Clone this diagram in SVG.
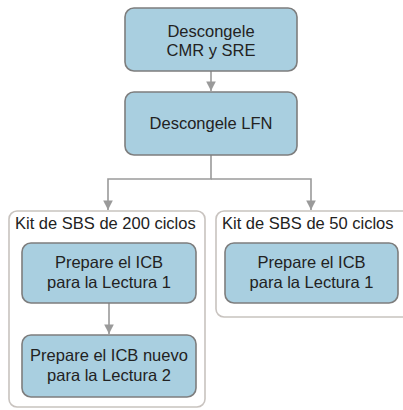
<svg xmlns="http://www.w3.org/2000/svg" width="403" height="410" viewBox="0 0 403 410">
<style>
.node{fill:#a9cfe0;stroke:#7d7d7d;stroke-width:1.6}
.grp{fill:#ffffff;stroke:#c8c3bf;stroke-width:1.6}
.t{font-family:"Liberation Sans",Arial,sans-serif;font-size:16.5px;fill:#222;text-anchor:middle}
.gl{font-family:"Liberation Sans",Arial,sans-serif;font-size:16.5px;fill:#222}
.c{fill:none;stroke:#9a9a9a;stroke-width:1.6}
</style>
<defs>
<marker id="ah" viewBox="0 0 10 10" refX="10" refY="5" markerWidth="6" markerHeight="6" orient="auto" markerUnits="strokeWidth">
<path d="M0,0 L10,5 L0,10 z" fill="#9a9a9a"/>
</marker>
</defs>
<rect width="403" height="410" fill="#ffffff"/>
<g id="grp200">
<rect class="grp" x="9" y="211" width="196" height="196" rx="8"/>
<text class="gl" x="15" y="229">Kit de SBS de 200 ciclos</text>
</g>
<g id="grp50">
<rect class="grp" x="216" y="211" width="200" height="106" rx="8"/>
<text class="gl" x="222" y="229">Kit de SBS de 50 ciclos</text>
</g>
<g id="connectors">
<path class="c" d="M211,71 V91" marker-end="url(#ah)"/>
<path class="c" d="M211,155 V179 H108 V210" marker-end="url(#ah)"/>
<path class="c" d="M211,179 H311 V210" marker-end="url(#ah)"/>
<path class="c" d="M109,303 V334" marker-end="url(#ah)"/>
</g>
<g id="n1">
<rect class="node" x="125" y="8" width="172" height="63" rx="9"/>
<text class="t" x="211" y="37">Descongele</text>
<text class="t" x="211" y="56">CMR y SRE</text>
</g>
<g id="n2">
<rect class="node" x="125" y="92" width="172" height="63" rx="9"/>
<text class="t" x="211" y="129">Descongele LFN</text>
</g>
<g id="n3">
<rect class="node" x="22" y="243" width="174" height="60" rx="9"/>
<text class="t" x="109" y="268">Prepare el ICB</text>
<text class="t" x="109" y="288">para la Lectura 1</text>
</g>
<g id="n4">
<rect class="node" x="22" y="335" width="174" height="62" rx="9"/>
<text class="t" x="109" y="361">Prepare el ICB nuevo</text>
<text class="t" x="109" y="381">para la Lectura 2</text>
</g>
<g id="n5">
<rect class="node" x="225" y="243" width="173" height="60" rx="9"/>
<text class="t" x="311.5" y="268">Prepare el ICB</text>
<text class="t" x="311.5" y="288">para la Lectura 1</text>
</g>
</svg>
